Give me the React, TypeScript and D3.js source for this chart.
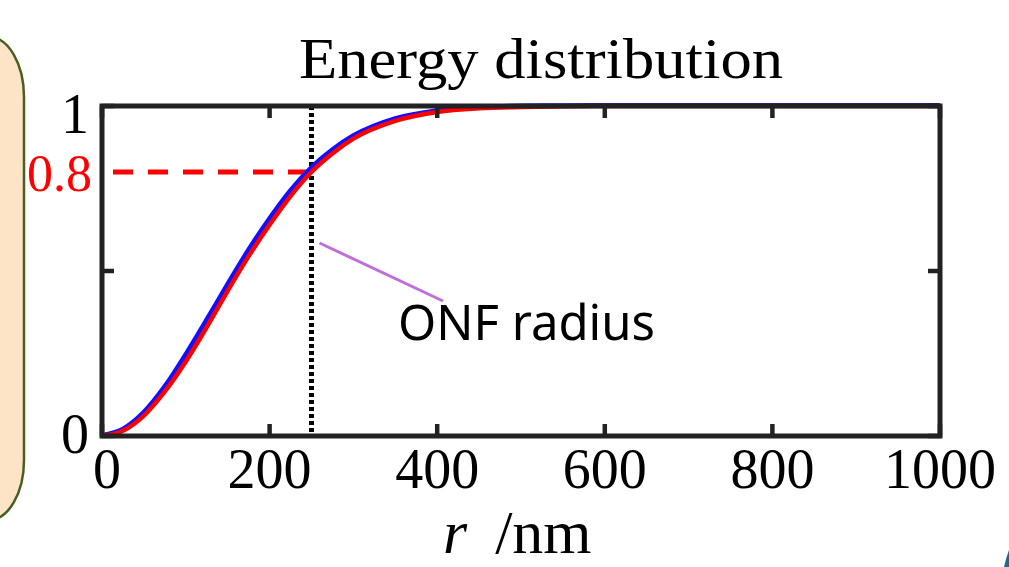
import { useEffect, useRef } from 'react';
import * as d3 from 'd3';

// radius samples (nm) and cumulative energy fraction
const radii = [0, 25, 50, 75, 100, 125, 150, 175, 200, 225, 250, 275, 300, 350, 400, 450, 500, 550, 600, 700, 800, 900, 1000];
const blueEnergy = [0, 0.019, 0.07, 0.148, 0.245, 0.35, 0.458, 0.562, 0.657, 0.742, 0.812, 0.866, 0.908, 0.96, 0.984, 0.994, 0.998, 0.999, 1, 1, 1, 1, 1];
const redEnergy = [0, 0.016, 0.062, 0.135, 0.226, 0.33, 0.44, 0.545, 0.64, 0.727, 0.8, 0.856, 0.901, 0.955, 0.982, 0.993, 0.997, 0.999, 1, 1, 1, 1, 1];

const xTicks = [0, 200, 400, 600, 800, 1000];
const yTicks = [0, 0.5, 1];
const yLabels = [0, 1];
const onfRadius = 250;
const onfLevel = 0.8;

export default function App() {
  const svgRef = useRef<SVGSVGElement>(null);

  useEffect(() => {
    document.body.style.margin = '0';
    if (!svgRef.current) return;
    const svg = d3.select(svgRef.current);
    svg.selectAll('*').remove();

    const x = d3.scaleLinear().domain([0, 1000]).range([102, 940]);
    const y = d3.scaleLinear().domain([0, 1]).range([436, 106]);
    const serif = '"Liberation Serif", "DejaVu Serif", serif';

    // side panel fragment on the left
    svg.append('rect')
      .attr('x', -46).attr('y', 37)
      .attr('width', 70).attr('height', 483)
      .attr('rx', 35).attr('ry', 60)
      .attr('fill', '#fde4c6')
      .attr('stroke', '#4a5e23')
      .attr('stroke-width', 2.5);

    // corner fragment bottom right
    svg.append('path')
      .attr('d', 'M1004,567 Q1006,558 1009,550 L1009,567 Z')
      .attr('fill', '#1d6a90');

    // title
    svg.append('text')
      .attr('x', 541).attr('y', 78)
      .attr('text-anchor', 'middle')
      .attr('font-family', serif)
      .attr('font-size', 57)
      .attr('textLength', 484)
      .attr('lengthAdjust', 'spacingAndGlyphs')
      .text('Energy distribution');

    const g = svg.append('g');

    // reference lines
    g.append('line')
      .attr('x1', x(0) + 11).attr('x2', x(onfRadius))
      .attr('y1', y(onfLevel)).attr('y2', y(onfLevel))
      .attr('stroke', '#ff0000')
      .attr('stroke-width', 5)
      .attr('stroke-dasharray', '20,15');

    g.append('line')
      .attr('x1', x(onfRadius)).attr('x2', x(onfRadius))
      .attr('y1', y(1)).attr('y2', y(0))
      .attr('stroke', '#000')
      .attr('stroke-width', 5)
      .attr('stroke-dasharray', '4,3');

    // curves
    const line = d3.line<number>()
      .x((_, i) => x(radii[i]))
      .curve(d3.curveMonotoneX);

    g.append('path')
      .datum(blueEnergy)
      .attr('fill', 'none')
      .attr('stroke', '#1010ff')
      .attr('stroke-width', 5)
      .attr('d', line.y(d => y(d) - 0.6));

    g.append('path')
      .datum(redEnergy)
      .attr('fill', 'none')
      .attr('stroke', '#ff0000')
      .attr('stroke-width', 4.5)
      .attr('d', line.y(d => y(d)));

    // frame
    g.append('rect')
      .attr('x', x(0)).attr('y', y(1))
      .attr('width', x(1000) - x(0)).attr('height', y(0) - y(1))
      .attr('fill', 'none')
      .attr('stroke', '#222')
      .attr('stroke-width', 5);

    // inward ticks
    const tickLen = 12;
    const tickStyle = (sel: any) => sel.attr('stroke', '#222').attr('stroke-width', 4.5);
    xTicks.forEach(t => {
      g.append('line').attr('x1', x(t)).attr('x2', x(t)).attr('y1', y(0)).attr('y2', y(0) - tickLen).call(tickStyle);
      g.append('line').attr('x1', x(t)).attr('x2', x(t)).attr('y1', y(1)).attr('y2', y(1) + tickLen).call(tickStyle);
    });
    yTicks.forEach(t => {
      g.append('line').attr('x1', x(0)).attr('x2', x(0) + tickLen).attr('y1', y(t)).attr('y2', y(t)).call(tickStyle);
      g.append('line').attr('x1', x(1000)).attr('x2', x(1000) - tickLen).attr('y1', y(t)).attr('y2', y(t)).call(tickStyle);
    });

    // tick labels
    g.selectAll('.xl')
      .data(xTicks)
      .join('text')
      .attr('x', d => x(d) + (d === 0 ? 5 : 0))
      .attr('y', 488)
      .attr('text-anchor', 'middle')
      .attr('font-family', serif)
      .attr('font-size', 56)
      .text(d => d);

    g.selectAll('.yl')
      .data(yLabels)
      .join('text')
      .attr('x', 89)
      .attr('y', d => y(d) + 19 + (d === 0 ? -2 : 8))
      .attr('text-anchor', 'end')
      .attr('font-family', serif)
      .attr('font-size', 56)
      .text(d => d);

    g.append('text')
      .attr('x', 92).attr('y', y(onfLevel) + 19)
      .attr('text-anchor', 'end')
      .attr('font-family', serif)
      .attr('font-size', 52)
      .attr('fill', '#ff0000')
      .text(onfLevel);

    // axis label
    const xl = svg.append('text')
      .attr('x', 443).attr('y', 553)
      .attr('font-family', serif)
      .attr('font-size', 62);
    xl.append('tspan').attr('font-style', 'italic').text('r');
    xl.append('tspan').attr('dx', 28).text('/nm');

    // annotation
    svg.append('line')
      .attr('x1', x(onfRadius) + 8).attr('y1', 243)
      .attr('x2', 443).attr('y2', 301)
      .attr('stroke', '#c06fd8')
      .attr('stroke-width', 3);

    svg.append('text')
      .attr('x', 398).attr('y', 340)
      .attr('font-family', '"Noto Sans", sans-serif')
      .attr('font-size', 50)
      .attr('textLength', 257)
      .attr('lengthAdjust', 'spacingAndGlyphs')
      .text('ONF radius');
  }, []);

  return <svg ref={svgRef} width={1009} height={567} style={{ display: 'block' }} />;
}
